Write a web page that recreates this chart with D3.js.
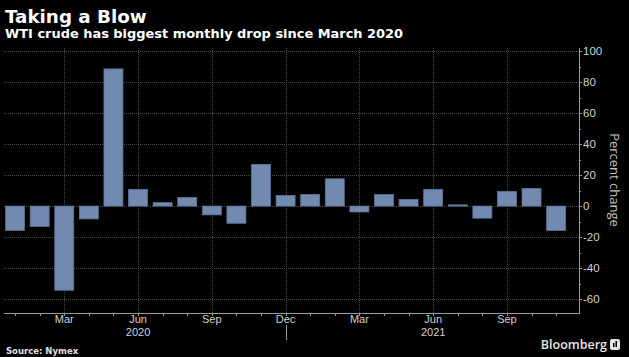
<!DOCTYPE html>
<html>
<head>
<meta charset="utf-8">
<script src="https://cdn.jsdelivr.net/npm/d3@7"></script>
<style>
  html, body { margin: 0; padding: 0; background: #000; }
  svg { display: block; }
</style>
</head>
<body>
<svg id="chart" width="629" height="357"></svg>
<script>
// ---- data ----
const months = ["Jan","Feb","Mar","Apr","May","Jun","Jul","Aug","Sep","Oct","Nov","Dec",
                "Jan","Feb","Mar","Apr","May","Jun","Jul","Aug","Sep","Oct","Nov"];
const years = [2020,2020,2020,2020,2020,2020,2020,2020,2020,2020,2020,2020,
               2021,2021,2021,2021,2021,2021,2021,2021,2021,2021,2021];
const pctChange = [-15.7,-13.1,-54.3,-8.3,88.5,10.8,2.2,5.6,-5.7,-11.1,26.9,6.9,
                   7.5,17.6,-3.8,7.5,4.3,10.8,0.8,-7.8,9.5,11.4,-15.7];
const majorMonthIdx = [2,5,8,11,14,17,20];       // Mar, Jun, Sep, Dec, Mar, Jun, Sep
const yearLabels = [{label:"2020", idx:5},{label:"2021", idx:17}];
const yearSeparatorIdx = [11];
const yTicks = [-60,-40,-20,0,20,40,60,80,100];
const yMinorTicks = [-60,-50,-40,-30,-20,-10,0,10,20,30,40,50,60,70,80,90,100];

// ---- layout ----
const svg = d3.select("#chart");
const W = 629, H = 357;
const plot = {left: 4, right: 579, top: 48, bottom: 313};
const axisFont = "Liberation Sans, Arial, sans-serif";

const x = d3.scaleLinear().domain([-0.45, 22.93]).range([plot.left, plot.right]);
const y = d3.scaleLinear().domain([-69, 102]).range([plot.bottom, plot.top]);
const barW = 19;

svg.append("rect").attr("width", W).attr("height", H).attr("fill", "#000");

// gridlines
const grid = svg.append("g");
grid.selectAll("line.h").data(yTicks).join("line")
  .attr("x1", plot.left).attr("x2", plot.right)
  .attr("y1", d => Math.round(y(d)) + 0.5).attr("y2", d => Math.round(y(d)) + 0.5)
  .attr("stroke", "#4a4a4a").attr("stroke-width", 1).attr("stroke-dasharray", "1,1");
grid.selectAll("line.v").data(majorMonthIdx).join("line")
  .attr("x1", d => Math.round(x(d)) + 0.5).attr("x2", d => Math.round(x(d)) + 0.5)
  .attr("y1", plot.top).attr("y2", plot.bottom)
  .attr("stroke", "#4a4a4a").attr("stroke-width", 1).attr("stroke-dasharray", "1,1");

// bars
svg.append("g").selectAll("rect").data(pctChange).join("rect")
  .attr("x", (d, i) => x(i) - barW / 2)
  .attr("width", barW)
  .attr("y", d => y(Math.max(0, d)))
  .attr("height", d => Math.abs(y(d) - y(0)))
  .attr("fill", "#7289b0")
  .attr("stroke", "#5d7296").attr("stroke-width", 0.8);

// x axis
const xAxisG = svg.append("g");
xAxisG.append("line")
  .attr("x1", plot.left).attr("x2", plot.right)
  .attr("y1", plot.bottom + 0.5).attr("y2", plot.bottom + 0.5)
  .attr("stroke", "#9a9a9a");
xAxisG.selectAll("line.t").data(d3.range(months.length)).join("line")
  .attr("x1", d => Math.round(x(d)) + 0.5).attr("x2", d => Math.round(x(d)) + 0.5)
  .attr("y1", plot.bottom).attr("y2", plot.bottom + 3)
  .attr("stroke", "#9a9a9a");
xAxisG.selectAll("text.m").data(majorMonthIdx).join("text")
  .attr("x", d => x(d)).attr("y", plot.bottom + 7)
  .attr("text-anchor", "middle").attr("dominant-baseline", "middle")
  .attr("fill", "#d0d0d0").attr("font-family", axisFont).attr("font-size", 11)
  .text(d => months[d]);
xAxisG.selectAll("text.y").data(yearLabels).join("text")
  .attr("x", d => x(d.idx)).attr("y", plot.bottom + 20)
  .attr("text-anchor", "middle").attr("dominant-baseline", "middle")
  .attr("fill", "#d0d0d0").attr("font-family", axisFont).attr("font-size", 11)
  .text(d => d.label);
xAxisG.selectAll("line.sep").data(yearSeparatorIdx).join("line")
  .attr("x1", d => Math.round(x(d)) + 0.5).attr("x2", d => Math.round(x(d)) + 0.5)
  .attr("y1", plot.bottom + 12).attr("y2", plot.bottom + 27)
  .attr("stroke", "#9a9a9a");

// y axis (right)
const yAxisG = svg.append("g");
yAxisG.append("line")
  .attr("x1", plot.right + 0.5).attr("x2", plot.right + 0.5)
  .attr("y1", plot.top).attr("y2", plot.bottom + 1)
  .attr("stroke", "#9a9a9a");
yAxisG.selectAll("line.mt").data(yMinorTicks).join("line")
  .attr("x1", plot.right)
  .attr("x2", d => plot.right + (d % 20 === 0 ? 3 : 2))
  .attr("y1", d => Math.round(y(d)) + 0.5).attr("y2", d => Math.round(y(d)) + 0.5)
  .attr("stroke", "#9a9a9a");
yAxisG.selectAll("text").data(yTicks).join("text")
  .attr("x", plot.right + 4).attr("y", d => y(d) + 1)
  .attr("dominant-baseline", "middle")
  .attr("fill", "#d0d0d0").attr("font-family", axisFont).attr("font-size", 11.5)
  .text(d => d < 0 ? "-" + Math.abs(d) : String(d));
svg.append("text")
  .attr("transform", `translate(613,180) rotate(90)`)
  .attr("text-anchor", "middle").attr("dominant-baseline", "middle")
  .attr("fill", "#c4c4c4").attr("font-family", "Open Sans, sans-serif").attr("font-size", 13)
  .text("Percent change");

// titles
svg.append("text").attr("x", 5).attr("y", 23)
  .attr("fill", "#fff").attr("font-family", "DejaVu Sans, sans-serif")
  .attr("font-weight", "bold").attr("font-size", 18.3)
  .text("Taking a Blow");
svg.append("text").attr("x", 5).attr("y", 38)
  .attr("fill", "#fff").attr("font-family", "DejaVu Sans, sans-serif")
  .attr("font-weight", "bold").attr("font-size", 12.95)
  .text("WTI crude has biggest monthly drop since March 2020");

// footer
svg.append("text").attr("x", 6).attr("y", 354)
  .attr("fill", "#e0e0e0").attr("font-family", "DejaVu Sans, sans-serif")
  .attr("font-weight", "bold").attr("font-size", 8.5)
  .text("Source: Nymex");
svg.append("text").attr("x", 607).attr("y", 349)
  .attr("text-anchor", "end")
  .attr("fill", "#e6e6e6").attr("font-family", "Open Sans, sans-serif")
  .attr("font-weight", 600).attr("font-size", 12.5)
  .text("Bloomberg");
const logo = svg.append("g").attr("transform", "translate(610,339)");
logo.append("rect").attr("width", 10).attr("height", 11).attr("rx", 2).attr("fill", "#e6e6e6");
logo.append("rect").attr("x", 3).attr("y", 4).attr("width", 1.5).attr("height", 4).attr("fill", "#000");
logo.append("rect").attr("x", 5.5).attr("y", 2).attr("width", 1.5).attr("height", 6).attr("fill", "#000");
</script>
</body>
</html>
